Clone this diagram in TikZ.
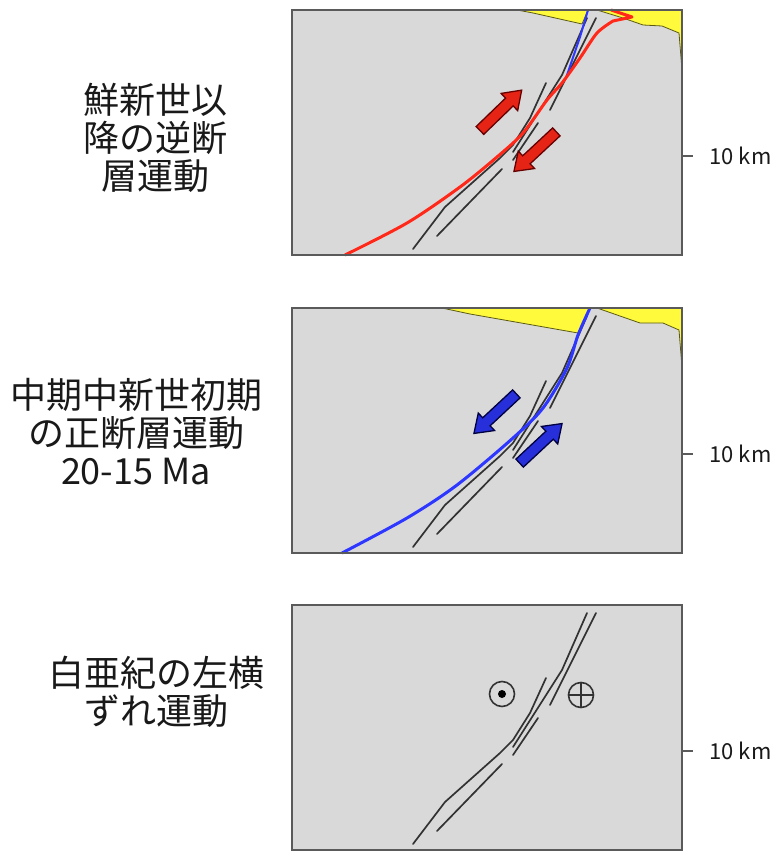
\documentclass[tikz,border=0pt]{standalone}
\usepackage{fontspec}
\setmainfont{Noto Sans CJK JP}
\usetikzlibrary{shapes.arrows, arrows.meta}

\definecolor{crust}{RGB}{217,217,217}
\definecolor{framegray}{RGB}{90,90,90}
\definecolor{faultgray}{RGB}{50,50,50}
\definecolor{sediment}{RGB}{255,250,60}
\definecolor{sedline}{RGB}{90,90,20}
\definecolor{reverse}{RGB}{255,40,25}
\definecolor{normal}{RGB}{45,55,255}

% gray fault strands, shared by every section
\newcommand{\faultstrands}{%
    \draw[fault] (121,239) -- (153,197) -- (208,148) -- (221,135) -- (238,108) -- (254,73);
    \draw[fault] (145,226) -- (210,159);
    \draw[fault] (221,150) -- (246,113);
    \draw[fault] (221,142) -- (270,65) -- (295,8);
    \draw[fault] (258,100) -- (304,8);
}

\begin{document}
\begin{tikzpicture}[x=1pt, y=-1pt,
    section/.style={fill=crust},
    border/.style={draw=framegray, line width=2pt},
    fault/.style={draw=faultgray, line width=1.7pt, line cap=round},
    cover/.style={fill=sediment, draw=sedline, line width=0.8pt},
    trace/.style={line width=3pt, line join=round},
    slip/.style={single arrow, draw, line width=1.3pt, inner sep=4.8pt, minimum height=58pt,
                 single arrow head extend=6.5pt, single arrow tip angle=70},
    agetext/.style={align=center, font=\fontsize{36}{38}\selectfont, text=black!90},
    kmtext/.style={anchor=west, font=\fontsize{22}{24}\selectfont, text=black!90},
]
    \useasboundingbox (0,0) rectangle (775,851);

    % Pliocene reverse faulting
    \begin{scope}[shift={(292,10)}]
        \fill[section] (0,0) rectangle (390,245);
        \path[cover] (225,0) -- (241,3) -- (290,14) -- (296,0) -- cycle;
        \path[cover] (305,0) -- (331,8) -- (351,15) -- (370,16) -- (387,23) -- (390,60) -- (390,0) -- cycle;
        \faultstrands
        \draw[trace, normal, line width=2pt] (296,0) -- (288,27) -- (274,68);
        \draw[trace, reverse] plot[smooth, tension=0.5] coordinates {(53,245) (115,213) (168,177) (205,147) (231,123) (255,90) (270,73) (288,48) (305,23) (321,11)}
            -- (340,7) -- (319,0);
        \node[slip, fill=reverse!90!black, draw=red!40!black, rotate=44] (up1) at (206,103) {};
        \node[slip, fill=reverse!90!black, draw=red!40!black, rotate=223] (down1) at (246,139) {};
        \draw[border] (0,0) rectangle (390,245);
        \draw[border, line width=1.5pt] (390,146) -- (401,146);
        \node[kmtext] (km1) at (414,146) {10 km};
    \end{scope}
    \node[agetext] (pliocene) at (155,138) {鮮新世以\\降の逆断\\層運動};

    % middle Miocene normal faulting
    \begin{scope}[shift={(292,308)}]
        \fill[section] (0,0) rectangle (390,245);
        \path[cover] (150,0) -- (178,6) -- (286,25) -- (298,0) -- cycle;
        \path[cover] (305,0) -- (348,15) -- (371,15) -- (387,22) -- (390,59) -- (390,0) -- cycle;
        \faultstrands
        \draw[trace, normal] plot[smooth, tension=0.5] coordinates {(50,245) (115,210) (165,177) (221,130) (251,100) (275,60) (286,27) (298,0)};
        \node[slip, fill=normal!85!black, draw=blue!25!black, rotate=223] (down2) at (206,103) {};
        \node[slip, fill=normal!85!black, draw=blue!25!black, rotate=43] (up2) at (246,138) {};
        \draw[border] (0,0) rectangle (390,245);
        \draw[border, line width=1.5pt] (390,146) -- (401,146);
        \node[kmtext] (km2) at (414,146) {10 km};
    \end{scope}
    \node[agetext] (miocene) at (136,432) {中期中新世初期\\の正断層運動\\20-15 Ma};

    % Cretaceous sinistral strike-slip
    \begin{scope}[shift={(292,605)}]
        \fill[section] (0,0) rectangle (390,245);
        \faultstrands
        \node[circle, draw=faultgray, line width=1.6pt, minimum size=25pt, inner sep=0pt] (outof) at (210,89) {};
        \fill[black] (outof.center) circle (4pt);
        \node[circle, draw=faultgray, line width=1.6pt, minimum size=25pt, inner sep=0pt] (into) at (289,90) {};
        \draw[faultgray, line width=1.6pt] (into.north) -- (into.south) (into.west) -- (into.east);
        \draw[border] (0,0) rectangle (390,245);
        \draw[border, line width=1.5pt] (390,146) -- (401,146);
        \node[kmtext] (km3) at (414,146) {10 km};
    \end{scope}
    \node[agetext] (cretaceous) at (156,692) {白亜紀の左横\\ずれ運動};
\end{tikzpicture}
\end{document}
